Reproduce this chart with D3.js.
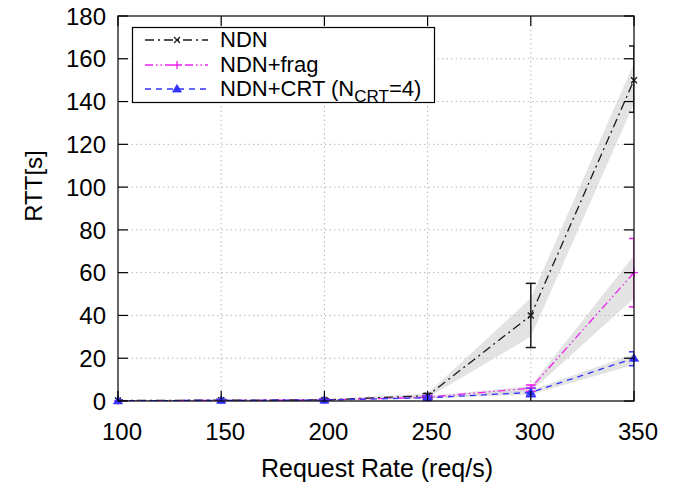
<!DOCTYPE html>
<html>
<head>
<meta charset="utf-8">
<script src="https://cdn.jsdelivr.net/npm/d3@7/dist/d3.min.js"></script>
<style>
  html, body { margin: 0; padding: 0; background: #fff; }
  svg { display: block; font-family: "Liberation Sans", Arial, sans-serif; }
</style>
</head>
<body>
<svg id="chart" width="681" height="492"></svg>
<script>
// Request rates on the x axis
const rates = [100, 150, 200, 250, 300, 350];
const xTicks = [100, 150, 200, 250, 300, 350];
const yTicks = [0, 20, 40, 60, 80, 100, 120, 140, 160, 180];

// NDN: mean RTT, error bar range, confidence band
const ndnMean   = [0.2, 0.4, 0.5, 2.5, 40, 150];
const ndnErrLo  = [0, 0, 0, 1.5, 25, 135];
const ndnErrHi  = [0.5, 0.8, 1.0, 3.5, 55, 166];
const ndnBandLo = [0, 0.1, 0.2, 1.5, 30, 139];
const ndnBandHi = [0.4, 0.7, 0.8, 3.5, 48, 158];

// NDN+frag
const fragMean   = [0.1, 0.3, 0.4, 1.8, 6, 60];
const fragErrLo  = [0, 0, 0.1, 1.0, 4.5, 44];
const fragErrHi  = [0.3, 0.6, 0.8, 2.6, 7.5, 76];
const fragBandLo = [0, 0.2, 0.3, 1.4, 4.5, 48];
const fragBandHi = [0.2, 0.4, 0.5, 2.2, 7, 68];

// NDN+CRT (N_CRT = 4)
const crtMean   = [0.1, 0.3, 0.4, 1.5, 4, 20];
const crtErrLo  = [0, 0, 0.1, 0.8, 2, 16.5];
const crtErrHi  = [0.3, 0.6, 0.8, 2.3, 6, 23];
const crtBandLo = [0, 0.2, 0.3, 1.2, 3, 17];
const crtBandHi = [0.2, 0.4, 0.5, 1.8, 5, 22];

const series = [
  { name: "NDN", mean: ndnMean, lo: ndnErrLo, hi: ndnErrHi, bLo: ndnBandLo, bHi: ndnBandHi,
    color: "#1a1a1a", dash: "9,4,2,4", marker: "x" },
  { name: "NDN+frag", mean: fragMean, lo: fragErrLo, hi: fragErrHi, bLo: fragBandLo, bHi: fragBandHi,
    color: "#ee22ee", dash: "8,3,1.5,3,1.5,3", marker: "plus" },
  { name: "NDN+CRT", mean: crtMean, lo: crtErrLo, hi: crtErrHi, bLo: crtBandLo, bHi: crtBandHi,
    color: "#3333ff", dash: "6,5", marker: "tri" }
];

const svg = d3.select("#chart");
const L = 118, R = 634, T = 16, B = 401;

const x = d3.scaleLinear().domain([100, 350]).range([L, R]);
const y = d3.scaleLinear().domain([0, 180]).range([B, T]);

// clip for the data marks
svg.append("defs").append("clipPath").attr("id", "plotClip")
  .append("rect").attr("x", L).attr("y", T).attr("width", R - L).attr("height", B - T);

// dotted grid
const grid = svg.append("g");
grid.selectAll("line.gx").data(xTicks.slice(1, -1)).join("line")
  .attr("x1", d => x(d)).attr("x2", d => x(d)).attr("y1", T).attr("y2", B)
  .attr("stroke", "#b8b8b8").attr("stroke-width", 1).attr("stroke-dasharray", "1.5,3");
grid.selectAll("line.gy").data(yTicks.slice(1, -1)).join("line")
  .attr("y1", d => y(d)).attr("y2", d => y(d)).attr("x1", L).attr("x2", R)
  .attr("stroke", "#b8b8b8").attr("stroke-width", 1).attr("stroke-dasharray", "1.5,3");

const plot = svg.append("g").attr("clip-path", "url(#plotClip)");

// confidence bands
const area = d3.area()
  .x((d, i) => x(rates[i]))
  .y0(d => y(d[0]))
  .y1(d => y(d[1]));
series.forEach(s => {
  const pts = rates.map((r, i) => [s.bLo[i], s.bHi[i]]);
  plot.append("path").attr("d", area(pts))
    .attr("fill", "#c8c8c8").attr("fill-opacity", 0.5).attr("stroke", "none");
});

// mean lines
const line = d3.line().x((d, i) => x(rates[i])).y(d => y(d));
series.forEach(s => {
  plot.append("path").attr("d", line(s.mean))
    .attr("fill", "none").attr("stroke", s.color).attr("stroke-width", 1.3)
    .attr("stroke-dasharray", s.dash);
});

// error bars
series.forEach(s => {
  const g = plot.append("g").attr("stroke", s.color).attr("stroke-width", 1.5);
  rates.forEach((r, i) => {
    const cx = x(r), y0 = y(s.lo[i]), y1 = y(s.hi[i]);
    g.append("line").attr("x1", cx).attr("x2", cx).attr("y1", y0).attr("y2", y1);
    g.append("line").attr("x1", cx - 5).attr("x2", cx + 5).attr("y1", y0).attr("y2", y0);
    g.append("line").attr("x1", cx - 5).attr("x2", cx + 5).attr("y1", y1).attr("y2", y1);
  });
});

// point markers
function drawMarker(g, type, cx, cy, color) {
  if (type === "x") {
    g.append("path").attr("d", `M${cx-3},${cy-3}L${cx+3},${cy+3}M${cx-3},${cy+3}L${cx+3},${cy-3}`)
      .attr("stroke", color).attr("stroke-width", 1.3).attr("fill", "none");
  } else if (type === "plus") {
    g.append("path").attr("d", `M${cx-4},${cy}L${cx+4},${cy}M${cx},${cy-4}L${cx},${cy+4}`)
      .attr("stroke", color).attr("stroke-width", 1.3).attr("fill", "none");
  } else {
    g.append("path").attr("d", `M${cx},${cy-4.5}L${cx+4.5},${cy+3}L${cx-4.5},${cy+3}Z`)
      .attr("fill", color).attr("stroke", color).attr("stroke-width", 0.8);
  }
}
const marks = svg.append("g");
series.forEach(s => {
  rates.forEach((r, i) => drawMarker(marks, s.marker, x(r), y(s.mean[i]), s.color));
});

// border with inward ticks on all four sides
const frame = svg.append("g").attr("stroke", "#000").attr("stroke-width", 1.2);
frame.append("rect").attr("x", L).attr("y", T).attr("width", R - L).attr("height", B - T)
  .attr("fill", "none");
const tk = 10;
yTicks.forEach(v => {
  frame.append("line").attr("x1", L).attr("x2", L + tk).attr("y1", y(v)).attr("y2", y(v));
  frame.append("line").attr("x1", R - tk).attr("x2", R).attr("y1", y(v)).attr("y2", y(v));
});
xTicks.forEach(v => {
  frame.append("line").attr("x1", x(v)).attr("x2", x(v)).attr("y1", B).attr("y2", B - tk);
  frame.append("line").attr("x1", x(v)).attr("x2", x(v)).attr("y1", T).attr("y2", T + tk);
});

// tick labels
svg.append("g").selectAll("text").data(yTicks).join("text")
  .attr("x", 106).attr("y", d => y(d)).attr("dy", "0.36em")
  .attr("text-anchor", "end").attr("font-size", 24).attr("fill", "#000")
  .text(d => d);
svg.append("g").selectAll("text").data(xTicks).join("text")
  .attr("x", d => x(d) + 4).attr("y", 440)
  .attr("text-anchor", "middle").attr("font-size", 24).attr("fill", "#000")
  .text(d => d);

// axis titles
svg.append("text").attr("x", 377).attr("y", 477).attr("text-anchor", "middle")
  .attr("font-size", 25).attr("fill", "#000").text("Request Rate (req/s)");
svg.append("text").attr("transform", "translate(42,186) rotate(-90)")
  .attr("text-anchor", "middle").attr("font-size", 24).attr("fill", "#000").text("RTT[s]");

// legend
const lg = svg.append("g");
lg.append("rect").attr("x", 132.5).attr("y", 27.5).attr("width", 302).attr("height", 75)
  .attr("fill", "#fff").attr("stroke", "#000").attr("stroke-width", 1.2);
const rowBase = [47, 72, 96];
series.forEach((s, i) => {
  const cy = rowBase[i] - 7;
  lg.append("line").attr("x1", 145).attr("x2", 208).attr("y1", cy).attr("y2", cy)
    .attr("stroke", s.color).attr("stroke-width", 1.3).attr("stroke-dasharray", s.dash);
  drawMarker(lg, s.marker, 177, cy, s.color);
  const t = lg.append("text").attr("x", 220).attr("y", rowBase[i])
    .attr("font-size", 22).attr("fill", "#000");
  if (i < 2) {
    t.text(s.name);
  } else {
    t.append("tspan").text("NDN+CRT (N");
    t.append("tspan").attr("font-size", 17).attr("dy", 6).text("CRT");
    t.append("tspan").attr("dy", -6).text("=4)");
  }
});
</script>
</body>
</html>
